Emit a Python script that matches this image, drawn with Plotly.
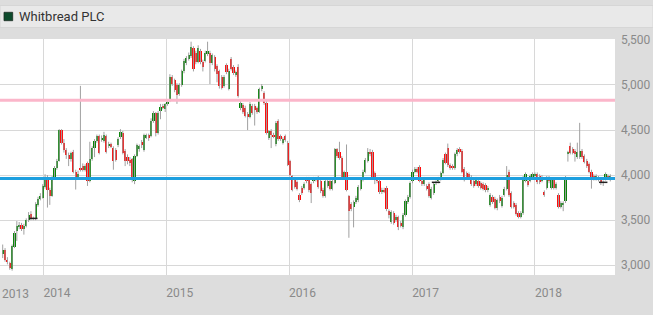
import plotly.graph_objects as go
import pandas as pd

# ---------------- data (weekly OHLC, pence) ----------------
start_week = "2013-09-02"

opens = [
    3120,3170,3060,3020,2960,3205,3380,3420,3450,3400,
    3440,3500,3570,3520,3510,3670,3740,3750,3870,3980,
    3840,3770,3970,4080,4160,4500,4360,4280,4220,4180,
    4260,4040,3980,4080,4100,4060,4130,3930,4180,4300,
    4380,4430,4390,4380,4430,4320,4340,4300,4280,4330,
    4420,4470,4270,4200,4170,4175,3935,4215,4300,4370,
    4280,4420,4440,4435,4600,4690,4470,4715,4770,4730,
    4790,4825,5090,5050,5000,4900,5000,5150,5240,5290,
    5325,5410,5360,5250,5380,5250,5270,5340,5360,5240,
    5310,5210,5150,5090,4990,5220,4960,5290,5200,5110,
    5200,4740,4780,4750,4680,4650,4770,4770,4740,4705,
    4950,4915,4800,4410,4490,4450,4340,4600,4430,4360,
    4430,4360,4155,3985,3960,3920,3780,3860,3860,3960,
    3960,3900,3930,3960,3960,3940,3840,3770,3880,3930,
    3850,3915,4285,4260,4190,3970,4030,3765,3680,3650,
    3700,3720,3850,3950,4040,4160,4260,4260,4020,3960,
    3940,3810,3840,3860,3600,3480,3580,3500,3530,3470,
    3420,3560,3700,3760,3930,4040,4070,4090,3940,3900,
    3880,3900,3750,3800,3920,3930,3960,4025,4230,4300,
    4110,4100,4080,4230,4290,4270,4070,4020,4010,3980,
    3930,3900,3940,3910,3900,3890,3830,3670,3760,3740,
    3630,3760,3660,3780,3850,4040,3800,3690,3670,3580,
    3540,3580,3940,3940,3940,3990,4000,4010,3990,3940,
    3810,3860,3970,3860,3950,3860,3780,3650,3670,3710,
    4240,4320,4290,4270,4200,4200,4270,4210,4160,4120,
    4040,3990,3960,3970,3950,3920,3960,3990,3950,
]
highs = [
    3230,3190,3090,3040,3230,3380,3490,3480,3470,3460,
    3520,3590,3600,3540,3700,3760,3800,3900,4010,4000,
    3860,3990,4100,4180,4510,4510,4400,4300,4250,4260,
    4280,4060,4050,4990,4130,4120,4150,4370,4320,4400,
    4450,4450,4440,4480,4450,4370,4360,4320,4300,4420,
    4510,4490,4290,4230,4200,4190,4230,4350,4340,4390,
    4460,4460,4460,4630,4710,4700,4710,4790,4790,4800,
    4830,5120,5110,5070,5020,5020,5170,5290,5320,5360,
    5480,5430,5380,5440,5400,5280,5380,5480,5380,5350,
    5330,5230,5170,5110,5110,5240,5180,5310,5220,5160,
    5230,4830,4800,4770,4700,4810,4790,4790,4760,4970,
    5010,4930,4820,4500,4510,4470,4600,4620,4450,4420,
    4450,4380,4170,4000,3980,3940,3800,3880,3920,3980,
    3980,3920,3980,3980,3990,3960,3860,3950,3950,3950,
    3960,4300,4300,4370,4210,4050,4340,3780,3700,3720,
    3770,3890,3970,4060,4190,4300,4290,4280,4040,3980,
    3960,3860,3860,3880,3620,3610,3600,3560,3550,3490,
    3580,3730,3780,3930,4060,4090,4090,4110,3960,3980,
    3900,3920,3870,3920,3940,3980,4040,4190,4250,4350,
    4130,4120,4250,4300,4310,4290,4090,4040,4030,4000,
    3950,3980,3960,3930,3920,3910,3880,3800,3780,3760,
    3740,3780,3770,3870,4100,4060,3820,3710,3690,3600,
    3600,3990,4030,3960,4010,4030,4030,4030,4010,4000,
    3830,3990,3990,3970,3970,3920,3800,3710,3710,3990,
    4270,4360,4310,4290,4360,4580,4290,4230,4180,4140,
    4060,4010,4010,3990,3970,3940,4030,4010,4010,
]
lows = [
    3080,3040,3010,2950,2940,3190,3270,3400,3380,3340,
    3420,3480,3500,3500,3500,3650,3720,3740,3850,3640,
    3670,3760,3960,4060,4150,4340,4250,4180,4100,4150,
    4020,3840,3960,4040,4040,4040,3880,3920,4160,4200,
    4360,4230,4370,4360,4240,4300,4300,4060,4150,4310,
    4400,4230,4100,4120,4100,3920,3900,4200,4260,4300,
    4260,4400,4380,4420,4580,4430,4450,4620,4730,4700,
    4770,4810,4990,4920,4790,4880,4980,5130,5220,5270,
    5300,5150,5230,5240,5230,5150,5250,5320,5010,5220,
    5150,5030,4960,4950,4970,5120,4940,5160,5110,5090,
    4860,4720,4680,4640,4500,4630,4670,4550,4680,4690,
    4930,4780,4450,4390,4300,4410,4320,4380,4380,4340,
    4370,4100,3990,3820,3850,3830,3700,3780,3840,3910,
    3810,3690,3910,3930,3850,3800,3750,3750,3860,3830,
    3830,3900,4190,4170,3950,3950,3820,3305,3600,3420,
    3680,3700,3830,3930,4020,4140,4210,3960,3900,3910,
    3790,3790,3800,3600,3520,3460,3450,3480,3390,3420,
    3400,3540,3680,3740,3910,4020,4020,3920,3880,3880,
    3830,3750,3730,3780,3890,3910,3940,4010,4120,4090,
    4060,4060,4060,4210,4240,4020,3930,3950,3960,3880,
    3860,3880,3860,3840,3830,3810,3810,3650,3680,3620,
    3610,3690,3640,3760,3830,3760,3630,3630,3550,3520,
    3520,3560,3920,3870,3920,3970,3980,3900,3900,3920,
    3760,3840,3910,3840,3840,3840,3630,3630,3600,3690,
    4150,4230,4230,4150,4180,4180,4180,4130,4080,4020,
    3850,3940,3940,3930,3890,3880,3940,3950,3930,
]
closes = [
    3170,3060,3040,2975,3215,3360,3440,3450,3400,3440,
    3500,3560,3520,3520,3680,3740,3770,3880,3980,3840,
    3770,3970,4080,4160,4500,4360,4280,4220,4180,4240,
    4040,3980,4010,4060,4060,4100,3930,4180,4300,4380,
    4430,4250,4410,4450,4260,4350,4320,4160,4170,4400,
    4480,4250,4160,4160,4130,3955,4215,4330,4320,4330,
    4440,4440,4420,4600,4690,4470,4690,4760,4750,4785,
    4810,5090,5010,4940,4890,5000,5150,5270,5300,5330,
    5425,5175,5250,5410,5250,5200,5360,5380,5240,5330,
    5175,5120,4985,4970,5090,5140,5160,5180,5130,5140,
    4880,4805,4700,4660,4640,4790,4690,4720,4700,4950,
    4990,4800,4470,4485,4450,4430,4580,4400,4400,4400,
    4390,4115,4005,3840,3870,3850,3725,3800,3900,3930,
    3830,3800,3960,3950,3870,3820,3770,3930,3930,3850,
    3940,4285,4210,4190,3970,4030,3840,3600,3620,3700,
    3750,3870,3950,4040,4170,4260,4230,3980,3960,3930,
    3810,3840,3820,3620,3560,3590,3470,3540,3420,3440,
    3560,3710,3760,3910,4040,4070,4040,3940,3900,3960,
    3850,3770,3850,3900,3920,3960,4020,4170,4140,4110,
    4080,4080,4230,4280,4260,4040,3950,3970,3980,3900,
    3880,3960,3880,3860,3850,3830,3860,3780,3700,3640,
    3720,3710,3750,3850,4000,3780,3650,3650,3570,3540,
    3580,3970,4010,3890,3990,4010,4010,3920,3920,3980,
    3780,3970,3930,3950,3860,3900,3650,3690,3690,3970,
    4250,4245,4250,4230,4260,4270,4200,4150,4100,4040,
    3960,3960,3990,3950,3930,3920,4010,3970,3990,
]

resistance_level = 4830
support_level = 3962

year_ticks = ["2014-01-01", "2015-01-01", "2016-01-01", "2017-01-01", "2018-01-01"]
year_labels = ["2014", "2015", "2016", "2017", "2018"]
first_label = "2013"
y_ticks = [3000, 3500, 4000, 4500, 5000, 5500]
series_name = "Whitbread PLC"

# ---------------- styling ----------------
FONT = "Liberation Sans Narrow, Roboto, Lato, sans-serif"
UP = "#078507"
DOWN = "#ff0a0a"
WICK = "#a0a0a0"
GRID = "#d8d8d8"
TICK = "#8a8a8a"

dates = pd.date_range(start_week, periods=len(closes), freq="7D")

# wicks
wx, wy = [], []
for d, h, l in zip(dates, highs, lows):
    wx += [d, d, None]
    wy += [l, h, None]

# bodies
base = [min(o, c) for o, c in zip(opens, closes)]
size = [abs(c - o) for o, c in zip(opens, closes)]
cols = [UP if c > o else DOWN for o, c in zip(opens, closes)]

doji_x = [d for d, o, c in zip(dates, opens, closes) if o == c]
doji_y = [c for o, c in zip(opens, closes) if o == c]

fig = go.Figure()
fig.add_trace(go.Scatter(x=wx, y=wy, mode="lines",
                         line=dict(color=WICK, width=1), hoverinfo="skip"))
fig.add_trace(go.Bar(x=dates, y=size, base=base, width=6.5 * 86400000,
                     marker=dict(color=cols, line=dict(width=0)), name=series_name))
fig.add_trace(go.Scatter(x=doji_x, y=doji_y, mode="markers",
                         marker=dict(symbol="line-ew", size=6,
                                     line=dict(color="#222", width=1.5))))

W, H = 653, 315
ML, MR, MT, MB = 0, 38, 39, 40
pw = W - ML - MR
ph = H - MT - MB

def py(pix):  # pixel-from-top -> paper y
    return (H - MB - pix) / ph

def px(pix):
    return (pix - ML) / pw

shapes = [
    # top legend bar
    dict(type="rect", xref="paper", yref="paper", x0=px(0), x1=px(W),
         y0=py(27.5), y1=py(5.5), fillcolor="#e9e9e9",
         line=dict(color="#d6d6d6", width=1), layer="below"),
    # legend swatch
    dict(type="rect", xref="paper", yref="paper", x0=px(4), x1=px(12.7),
         y0=py(20.7), y1=py(12.3), fillcolor="#0c4a2b",
         line=dict(color="#1c2b22", width=0.8)),
    # resistance / support lines
    dict(type="line", xref="paper", yref="y", x0=0, x1=1,
         y0=resistance_level, y1=resistance_level,
         line=dict(color="#fbb6ca", width=3), layer="above"),
    dict(type="line", xref="paper", yref="y", x0=0, x1=1,
         y0=support_level, y1=support_level,
         line=dict(color="#1d9fdf", width=3), layer="above"),
]

annotations = [
    dict(text=series_name, xref="paper", yref="paper", x=px(17), y=py(16.5),
         xanchor="left", yanchor="middle", showarrow=False,
         font=dict(family=FONT, size=13, color="#333333")),
    dict(text=first_label, xref="paper", yref="paper", x=px(0), y=py(294),
         xanchor="left", yanchor="middle", showarrow=False,
         font=dict(family=FONT, size=12, color=TICK)),
]

fig.update_layout(
    width=W, height=H,
    margin=dict(l=ML, r=MR, t=MT, b=MB, pad=0),
    paper_bgcolor="#dddddd", plot_bgcolor="#ffffff",
    showlegend=False, bargap=0,
    font=dict(family=FONT, size=12, color=TICK),
    shapes=shapes, annotations=annotations,
    xaxis=dict(type="date", range=["2013-08-25", "2018-08-27"],
               tickvals=year_ticks, ticktext=year_labels,
               ticklabelposition="outside right", ticks="",
               ticklabelstandoff=9,
               showgrid=True, gridcolor=GRID, gridwidth=1,
               zeroline=False, showline=False,
               tickfont=dict(family=FONT, size=12, color=TICK)),
    yaxis=dict(side="right", range=[2892, 5510], tickvals=y_ticks,
               tickformat=",", ticks="", ticklabelstandoff=5,
               showgrid=True, gridcolor=GRID, gridwidth=1,
               zeroline=False, showline=False,
               tickfont=dict(family=FONT, size=12, color=TICK)),
)

fig.write_html("out.html")
